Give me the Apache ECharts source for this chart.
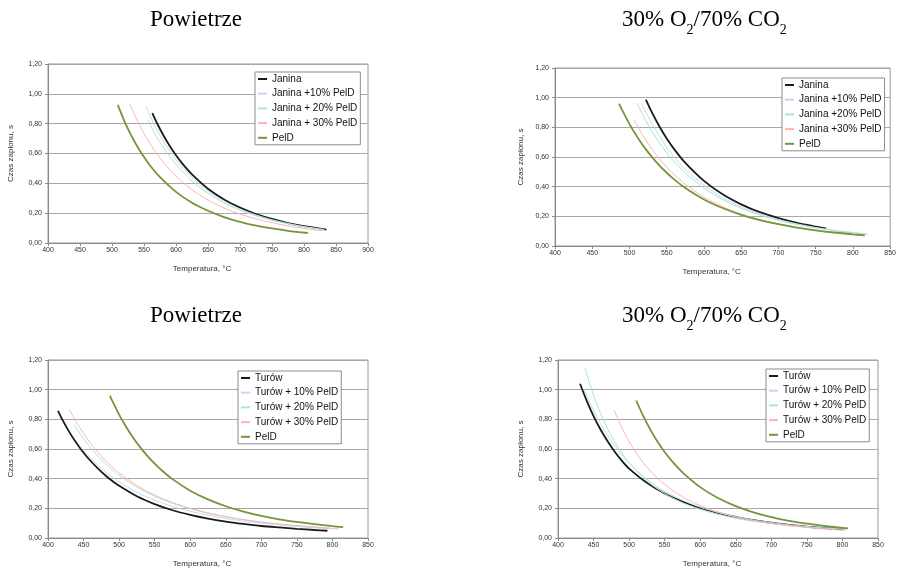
<!DOCTYPE html>
<html>
<head>
<meta charset="utf-8">
<script src="https://cdn.jsdelivr.net/npm/echarts@6/dist/echarts.min.js"></script>
<style>
  html, body { margin: 0; padding: 0; background: #fff; }
  #chart { width: 899px; height: 569px; }
</style>
</head>
<body>
<div id="chart"></div>
<script>
// Ignition time (s) versus temperature (°C) – [temperature, time] pairs

// Janina blends, air
const janinaAir   = [[563,0.87],[570,0.806],[580,0.724],[590,0.652],[600,0.588],[610,0.532],[625,0.46],[650,0.364],[675,0.292],[700,0.237],[725,0.194],[750,0.161],[775,0.134],[800,0.113],[835,0.09]];
const janina10Air = [[553,0.915],[560,0.847],[570,0.76],[580,0.684],[590,0.617],[600,0.558],[625,0.438],[650,0.349],[675,0.281],[700,0.228],[725,0.188],[750,0.156],[775,0.131],[800,0.11],[832,0.09]];
const janina20Air = [[556,0.825],[560,0.79],[570,0.711],[580,0.642],[590,0.581],[600,0.526],[625,0.416],[650,0.333],[675,0.269],[700,0.22],[725,0.182],[750,0.152],[775,0.128],[800,0.109],[830,0.09]];
const janina30Air = [[528,0.93],[530,0.91],[540,0.816],[550,0.734],[560,0.662],[570,0.598],[580,0.542],[600,0.448],[625,0.357],[650,0.288],[675,0.235],[700,0.194],[725,0.162],[750,0.136],[775,0.115],[800,0.098],[830,0.082]];
const peldAirJ    = [[509,0.926],[520,0.811],[530,0.722],[540,0.644],[550,0.576],[560,0.516],[575,0.441],[600,0.343],[625,0.27],[650,0.216],[675,0.174],[700,0.142],[725,0.117],[750,0.098],[775,0.082],[806,0.067]];

// Janina blends, 30% O2 / 70% CO2
const janinaOxy   = [[522,0.987],[530,0.902],[540,0.807],[550,0.725],[560,0.653],[575,0.56],[600,0.439],[625,0.349],[650,0.281],[675,0.228],[700,0.188],[725,0.156],[750,0.131],[764,0.119]];
const janina10Oxy = [[516,0.965],[520,0.922],[530,0.826],[540,0.741],[550,0.667],[560,0.602],[575,0.518],[600,0.409],[625,0.326],[650,0.264],[675,0.216],[700,0.178],[725,0.149],[750,0.125],[775,0.106],[800,0.091],[821,0.08]];
const janina20Oxy = [[510,0.965],[520,0.864],[530,0.775],[540,0.697],[550,0.629],[560,0.569],[575,0.492],[600,0.39],[625,0.313],[650,0.254],[675,0.209],[700,0.173],[725,0.145],[750,0.122],[775,0.104],[800,0.089],[819,0.08]];
const janina30Oxy = [[506,0.852],[510,0.815],[520,0.729],[530,0.655],[540,0.589],[550,0.532],[560,0.481],[575,0.416],[600,0.33],[625,0.265],[650,0.216],[675,0.177],[700,0.147],[725,0.123],[750,0.104],[775,0.089],[805,0.074]];
const peldOxyJ    = [[486,0.96],[490,0.918],[500,0.822],[510,0.739],[520,0.665],[530,0.601],[540,0.544],[550,0.494],[560,0.449],[575,0.391],[600,0.314],[625,0.256],[650,0.21],[675,0.175],[700,0.147],[725,0.124],[750,0.106],[775,0.091],[800,0.079],[816,0.072]];

// Turów blends, air
const turowAir    = [[414,0.857],[420,0.8],[430,0.714],[440,0.64],[450,0.575],[460,0.519],[470,0.469],[480,0.425],[490,0.386],[500,0.352],[525,0.281],[550,0.228],[575,0.187],[600,0.156],[625,0.131],[650,0.111],[675,0.095],[700,0.081],[725,0.071],[750,0.062],[775,0.054],[793,0.049]];
const turow10Air  = [[445,0.62],[450,0.591],[460,0.538],[470,0.49],[480,0.449],[490,0.411],[500,0.378],[525,0.308],[550,0.255],[575,0.213],[600,0.18],[625,0.154],[650,0.132],[675,0.114],[700,0.1],[725,0.088],[750,0.078],[775,0.069],[796,0.063]];
const turow20Air  = [[437,0.763],[440,0.74],[450,0.67],[460,0.608],[470,0.553],[480,0.504],[490,0.461],[500,0.422],[525,0.343],[550,0.282],[575,0.234],[600,0.197],[625,0.167],[650,0.143],[675,0.123],[700,0.107],[725,0.094],[750,0.083],[775,0.074],[796,0.067]];
const turow30Air  = [[430,0.868],[440,0.781],[450,0.705],[460,0.638],[470,0.578],[480,0.526],[490,0.48],[500,0.439],[525,0.354],[550,0.289],[575,0.239],[600,0.2],[625,0.169],[650,0.144],[675,0.124],[700,0.107],[725,0.093],[750,0.082],[775,0.073],[809,0.062]];
const peldAirT    = [[487,0.96],[490,0.928],[500,0.832],[510,0.748],[520,0.674],[530,0.609],[540,0.552],[550,0.501],[560,0.456],[575,0.397],[600,0.319],[625,0.26],[650,0.214],[675,0.178],[700,0.149],[725,0.126],[750,0.108],[775,0.093],[800,0.08],[815,0.074]];

// Turów blends, 30% O2 / 70% CO2
const turowOxy    = [[431,1.04],[440,0.93],[450,0.822],[460,0.73],[470,0.65],[480,0.58],[490,0.52],[500,0.468],[525,0.372],[550,0.3],[575,0.245],[600,0.203],[625,0.17],[650,0.142],[675,0.12],[700,0.103],[725,0.088],[750,0.076],[775,0.066],[801,0.058]];
const turow10Oxy  = [[437,1.0],[440,0.965],[450,0.86],[460,0.77],[470,0.69],[480,0.62],[490,0.56],[500,0.505],[525,0.395],[550,0.315],[575,0.255],[600,0.208],[625,0.172],[650,0.144],[675,0.121],[700,0.104],[725,0.089],[750,0.077],[775,0.067],[803,0.06]];
const turow20Oxy  = [[438,1.145],[440,1.112],[450,0.963],[460,0.838],[470,0.734],[480,0.646],[490,0.571],[500,0.508],[525,0.385],[550,0.3],[575,0.238],[600,0.193],[625,0.159],[650,0.133],[675,0.113],[700,0.097],[725,0.084],[750,0.074],[775,0.066],[805,0.06]];
const turow30Oxy  = [[479,0.86],[490,0.741],[500,0.65],[510,0.573],[520,0.507],[530,0.451],[540,0.403],[550,0.361],[575,0.278],[600,0.219],[625,0.175],[650,0.142],[675,0.117],[700,0.098],[725,0.083],[750,0.071],[775,0.061],[805,0.052]];
const peldOxyT    = [[510,0.927],[520,0.821],[530,0.729],[540,0.649],[550,0.58],[560,0.52],[575,0.443],[600,0.343],[625,0.27],[650,0.215],[675,0.173],[700,0.141],[725,0.116],[750,0.097],[775,0.081],[808,0.065]];

// Legend labels per panel
const namesJanAir = ['Janina', 'Janina +10% PelD', 'Janina + 20% PelD', 'Janina + 30% PelD', 'PelD'];
const namesJanOxy = ['Janina', 'Janina +10% PelD', 'Janina +20% PelD', 'Janina +30% PelD', 'PelD'];
const namesTurow  = ['Turów', 'Turów + 10% PelD', 'Turów + 20% PelD', 'Turów + 30% PelD', 'PelD'];

// Axis ranges
const xMaxPerPanel = [900, 850, 850, 850];
const yTicks = [0, 0.2, 0.4, 0.6, 0.8, 1.0, 1.2];

const panelTitles = ['{n|Powietrze}', '{n|30% O}{s|2}{n|/70% CO}{s|2}', '{n|Powietrze}', '{n|30% O}{s|2}{n|/70% CO}{s|2}'];

const colors = ['#1c1c1c', '#c5d8f2', '#a9e8c9', '#ffb5b5', '#77933c'];
const widths = [1.8, 1, 1, 1, 1.8];

const grids = [
  { left: 48,  top: 64, width: 320, height: 179 },
  { left: 555, top: 68, width: 337, height: 178 },
  { left: 48,  top: 360, width: 320, height: 179 },
  { left: 558, top: 360, width: 320, height: 179 }
];
const legendPos = [
  { left: 255, top: 72 },
  { left: 782, top: 78 },
  { left: 238, top: 371 },
  { left: 766, top: 369 }
];
const titlePos = [
  { left: 150, top: 3 },
  { left: 622, top: 3 },
  { left: 150, top: 299 },
  { left: 622, top: 299 }
];
const yNameGap = [33, 30, 33, 33];
// x-axis title sits a little left of the plot centre
const xNameShift = [12, 22, 12, 12];

const panelData = [
  [janinaAir, janina10Air, janina20Air, janina30Air, peldAirJ],
  [janinaOxy, janina10Oxy, janina20Oxy, janina30Oxy, peldOxyJ],
  [turowAir, turow10Air, turow20Air, turow30Air, peldAirT],
  [turowOxy, turow10Oxy, turow20Oxy, turow30Oxy, peldOxyT]
];
const panelNames = [namesJanAir, namesJanOxy, namesTurow, namesTurow];

const labelFont = 'Liberation Sans';
const serif = 'Liberation Serif';

const option = {
  backgroundColor: '#fff',
  animation: false,
  title: panelTitles.map((t, i) => ({
    text: t,
    left: titlePos[i].left,
    top: titlePos[i].top,
    padding: 0,
    textStyle: {
      fontWeight: 'normal',
      rich: {
        n: { fontFamily: serif, fontSize: 23, fontWeight: 'normal', color: '#000', lineHeight: 34 },
        s: { fontFamily: serif, fontSize: 14, fontWeight: 'normal', color: '#000', lineHeight: 34, verticalAlign: 'bottom' }
      }
    }
  })),
  grid: grids.map(g => Object.assign({ show: true, borderColor: '#9a9a9a', borderWidth: 1, backgroundColor: 'transparent' }, g)),
  legend: legendPos.map((p, i) => ({
    orient: 'vertical',
    left: p.left,
    top: p.top,
    data: panelNames[i],
    icon: 'rect',
    backgroundColor: '#fff',
    borderColor: '#8c8c8c',
    borderWidth: 1,
    borderRadius: 0,
    padding: [1, 3, 1, 3],
    itemGap: 2.7,
    itemWidth: 9,
    itemHeight: 2,
    selectedMode: false,
    textStyle: { fontFamily: labelFont, fontSize: 10, color: '#111', lineHeight: 12 }
  })),
  xAxis: grids.map((g, i) => ({
    type: 'value',
    gridIndex: i,
    min: 400,
    max: xMaxPerPanel[i],
    interval: 50,
    name: 'Temperatura, °C',
    nameLocation: 'middle',
    nameGap: 22,
    nameTextStyle: { fontFamily: labelFont, fontSize: 8, color: '#333', padding: [0, xNameShift[i], 0, 0] },
    axisLine: { lineStyle: { color: '#8a8a8a', width: 1 } },
    axisTick: { show: true, length: 3, lineStyle: { color: '#8a8a8a' } },
    axisLabel: { fontFamily: labelFont, fontSize: 7, color: '#333', margin: 4 },
    splitLine: { show: false }
  })),
  yAxis: grids.map((g, i) => ({
    type: 'value',
    gridIndex: i,
    min: yTicks[0],
    max: yTicks[yTicks.length - 1],
    interval: 0.2,
    name: 'Czas zapłonu, s',
    nameLocation: 'middle',
    nameGap: yNameGap[i],
    nameTextStyle: { fontFamily: labelFont, fontSize: 8, color: '#333' },
    axisLine: { show: true, lineStyle: { color: '#8a8a8a', width: 1 } },
    axisTick: { show: true, length: 3, lineStyle: { color: '#8a8a8a' } },
    axisLabel: {
      fontFamily: labelFont, fontSize: 7, color: '#333', margin: 6,
      formatter: v => v.toFixed(2).replace('.', ',')
    },
    splitLine: { show: true, lineStyle: { color: '#a8a8a8', width: 1 } }
  })),
  series: []
};

panelData.forEach((set, p) => {
  set.forEach((d, k) => {
    option.series.push({
      type: 'line',
      name: panelNames[p][k],
      xAxisIndex: p,
      yAxisIndex: p,
      data: d,
      symbol: 'none',
      smooth: 0.3,
      color: colors[k],
      lineStyle: { color: colors[k], width: widths[k] },
      z: 2 + k
    });
  });
});

const chart = echarts.init(document.getElementById('chart'), null, { renderer: 'canvas' });
chart.setOption(option);
</script>
</body>
</html>
